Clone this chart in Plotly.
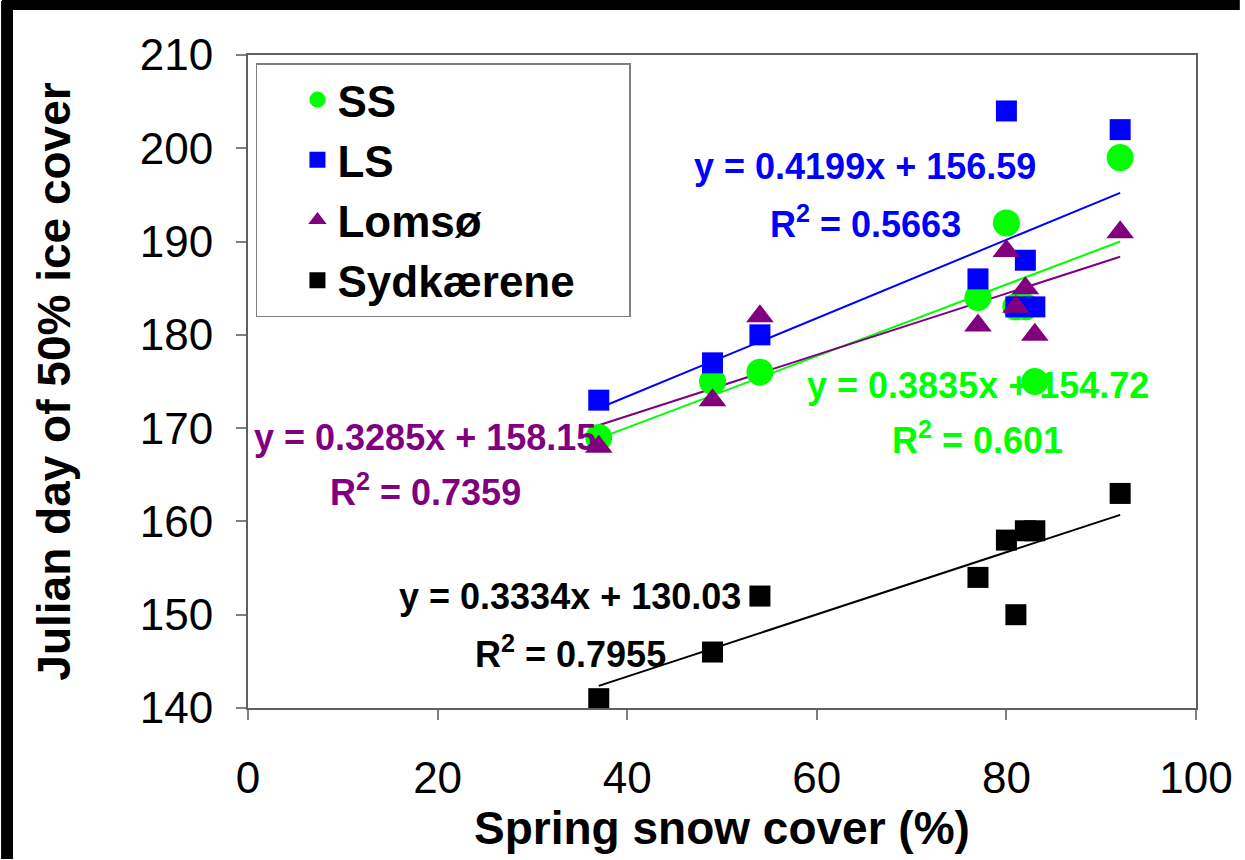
import numpy as np
import plotly.graph_objects as go

snow_cover = [37, 49, 54, 77, 80, 81, 82, 83, 92]
ss = [169, 175, 176, 184, 192, 183, 183, 175, 199]
ls = [173, 177, 180, 186, 204, 183, 188, 183, 202]
lomso = [168, 173, 182, 181, 189, 183, 185, 180, 191]
sydkaerene = [141, 146, 152, 154, 158, 150, 159, 159, 163]

series = [
    ("SS", ss, "#00FF00", "circle", 27),
    ("LS", ls, "#0000FF", "square", 21),
    ("Lomsø", lomso, "#800080", "triangle-up", 24),
    ("Sydkærene", sydkaerene, "#000000", "square", 21),
]

eq_labels = {
    "LS": ("y = 0.4199x + 156.59", "R<sup>2</sup> = 0.5663", 65.1, 198.0, 192.1),
    "SS": ("y = 0.3835x + 154.72", "R<sup>2</sup> = 0.601", 77.0, 174.6, 168.9),
    "Lomsø": ("y = 0.3285x + 158.15", "R<sup>2</sup> = 0.7359", 18.7, 169.0, 163.4),
    "Sydkærene": ("y = 0.3334x + 130.03", "R<sup>2</sup> = 0.7955", 34.0, 151.9, 146.0),
}

FONT = "Liberation Sans, Arial, sans-serif"
fig = go.Figure()

xs = np.array(snow_cover, dtype=float)
for name, ys, color, sym, size in series:
    k, b = np.polyfit(xs, np.array(ys, dtype=float), 1)
    xl = np.array([xs.min(), xs.max()])
    fig.add_trace(go.Scatter(x=xl, y=k * xl + b, mode="lines",
                             line=dict(color=color, width=2),
                             showlegend=False, hoverinfo="skip"))

for name, ys, color, sym, size in series:
    fig.add_trace(go.Scatter(x=snow_cover, y=ys, mode="markers",
                             name=f"<b>{name}</b>&nbsp;&nbsp;&nbsp;&nbsp;",
                             marker=dict(color=color, symbol=sym, size=size,
                                         line=dict(width=0))))

annotations = []
for name, ys, color, sym, size in series:
    eq, r2, ax, ay1, ay2 = eq_labels[name]
    annotations.append(dict(x=ax, y=ay1, text=f"<b>{eq}</b>", showarrow=False,
                            font=dict(family=FONT, size=36, color=color)))
    annotations.append(dict(x=ax, y=ay2, text=f"<b>{r2}</b>", showarrow=False,
                            font=dict(family=FONT, size=36, color=color)))

W, H = 1245, 860
L, R, T, B = 248, 45, 55, 152
pw, ph = W - L - R, H - T - B
def px(xp):
    return (xp - L) / pw
def py(yp):
    return (H - B - yp) / ph

# thin black bands along the top and left edges (corner pixel left white)
shapes = [
    dict(type="rect", xref="paper", yref="paper",
         x0=px(0), x1=px(12), y0=py(H - 1), y1=py(1),
         fillcolor="black", line=dict(width=0), layer="above"),
    dict(type="rect", xref="paper", yref="paper",
         x0=px(1), x1=px(W - 1), y0=py(10), y1=py(0),
         fillcolor="black", line=dict(width=0), layer="above"),
]

fig.update_layout(
    width=W, height=H,
    margin=dict(l=L, r=R, t=T, b=B),
    paper_bgcolor="white", plot_bgcolor="white",
    font=dict(family=FONT, color="black"),
    annotations=annotations,
    shapes=shapes,
    showlegend=True,
    legend=dict(x=px(256), y=py(63), xanchor="left", yanchor="top",
                bgcolor="white", bordercolor="#808080", borderwidth=1.5,
                font=dict(family=FONT, size=44, color="black"),
                itemsizing="trace", indentation=40),
    xaxis=dict(range=[0, 100], dtick=20, tick0=0, showgrid=False, zeroline=False,
               ticks="outside", ticklen=10, tickcolor="#808080", tickwidth=1.5,
               showline=True, linecolor="#606060", linewidth=2, mirror=True,
               tickfont=dict(family=FONT, size=44, color="black"), ticklabelstandoff=20,
               title=dict(text="<b>Spring snow cover (%)</b>", standoff=8,
                          font=dict(family=FONT, size=46, color="black"))),
    yaxis=dict(range=[140, 210], dtick=10, tick0=140, showgrid=False, zeroline=False,
               ticks="outside", ticklen=10, tickcolor="#808080", tickwidth=1.5,
               showline=True, linecolor="#606060", linewidth=2, mirror=True,
               tickfont=dict(family=FONT, size=44, color="black"), ticklabelstandoff=14,
               title=dict(text="<b>Julian day of 50% ice cover</b>", standoff=55,
                          font=dict(family=FONT, size=46, color="black"))),
)

fig.write_html("out.html")
